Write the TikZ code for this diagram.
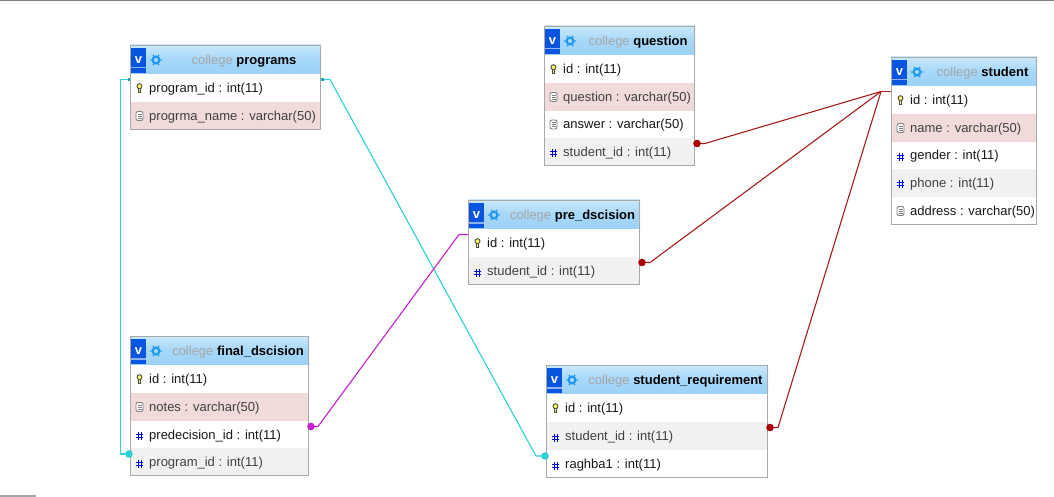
\documentclass[tikz,border=0pt]{standalone}
\usepackage{fontspec}
\setmainfont{Liberation Sans}
\usetikzlibrary{calc}
\definecolor{hdtop}{HTML}{C9E8FB}
\definecolor{hdbot}{HTML}{9BD2F7}
\definecolor{rowpink}{HTML}{F0DADA}
\definecolor{rowgray}{HTML}{F1F1F1}
\definecolor{tblborder}{HTML}{A9A9A9}
\definecolor{cyanlink}{HTML}{2CD0D5}
\definecolor{maglink}{HTML}{C81FD0}
\definecolor{redlink}{HTML}{A81C1C}
\definecolor{reddot}{HTML}{A80000}
\definecolor{vblue}{HTML}{0A55E0}
\definecolor{gearblue}{HTML}{1E9BEF}
\tikzset{
  x=1pt,y=-1pt,
  hdbox/.style={anchor=north west,inner sep=0,outer sep=0,rectangle,top color=hdtop,bottom color=hdbot,middle color=hdbot!75!hdtop},
  rowbox/.style={anchor=north west,inner sep=0,outer sep=0,rectangle},
  frame/.style={anchor=north west,inner sep=0,outer sep=0,rectangle,draw=tblborder,line width=1pt},
  fieldtxt/.style={anchor=base west,inner sep=0,font=\fontsize{13}{15}\selectfont},
  titletxt/.style={anchor=base,inner sep=0,font=\fontsize{13}{15}\selectfont},
  vtxt/.style={anchor=center,inner sep=0,text=white,font=\fontsize{13}{15}\selectfont\bfseries},
  link/.style={line width=1.1pt,line join=round},
}
% name x0 y0 x1 y1 title
\newcommand{\tblhead}[6]{%
  \node[hdbox,minimum width=#4-#2,minimum height=#5-#3] (#1) at (#2,#3) {};
  \fill[vblue] (#2+1,#3+3) rectangle (#2+16,#3+28);
  \fill[white!55!vblue] (#2+1,#3+22) rectangle (#2+16,#3+23.5);
  \node[vtxt] (#1v) at (#2+8.5,#3+15.5) {v};
  \draw[gearblue,line width=2.2pt] (#2+26,#3+15) circle (3.4);
  \foreach \a in {0,60,...,300}{\fill[gearblue] ($(#2+26,#3+15)+(\a:5.2)$) circle (.9);}
  \node[titletxt] (#1t) at ({(#2+35+#4)/2+1},#3+19.5) {\textcolor[HTML]{A6A6A6}{college} \textcolor{black}{\bfseries #6}};
}
% name x0 y0 x1 y1 fill icon text textcolor
\newcommand{\tblrow}[9]{%
  \node[rowbox,fill=#6,minimum width=#4-#2,minimum height=#5-#3] (#1) at (#2,#3) {};
  \csname icon#7\endcsname{#2+9.5}{(#3+#5)/2}
  \node[fieldtxt,text=#9] (#1t) at (#2+19,{(#3+#5)/2+4.5}) {#8};
}
\newcommand{\iconkey}[2]{%
  \draw[black!70,fill=yellow!65!white,line width=.9pt] ({#1},{#2-1.8}) circle (2.5);
  \draw[black!70,fill=yellow!65!white,line width=.9pt] ({#1-1.3},{#2+.5}) rectangle ({#1+1.3},{#2+4});
}
\newcommand{\icontxt}[2]{%
  \draw[black!50,fill=white,line width=.9pt,rounded corners=2pt] ({#1-3.5},{#2-4.5}) rectangle ({#1+3.5},{#2+4.5});
  \draw[black!50,line width=.8pt] ({#1-2},{#2-2}) -- ({#1+2},{#2-2}) ({#1-2},{#2}) -- ({#1+2},{#2}) ({#1-2},{#2+2}) -- ({#1+2},{#2+2});
}
\newcommand{\iconnum}[2]{%
  \draw[blue!95!black,line width=1pt] ({#1-1.5},{#2-2.5}) -- ({#1-1.5},{#2+5.5}) ({#1+1.5},{#2-2.5}) -- ({#1+1.5},{#2+5.5}) ({#1-3.5},{#2}) -- ({#1+3.5},{#2}) ({#1-3.5},{#2+3}) -- ({#1+3.5},{#2+3});
}
\newcommand{\tblframe}[5]{%
  \node[frame,minimum width=#4-#2-1,minimum height=#5-#3-1] (#1) at (#2+.5,#3+.5) {};
}
\begin{document}
\begin{tikzpicture}
\useasboundingbox (0,0) rectangle (1054,497);
\fill[white] (0,0) rectangle (1054,497);
\fill[black!50] (0,0) rectangle (1054,1);
\fill[black!35] (0,495) rectangle (36,496.5);

% programs
\tblhead{prgH}{130}{45}{321}{74}{programs}
\tblrow{prgA}{130}{74}{321}{102}{white}{key}{program\_id : int(11)}{black!90}
\tblrow{prgB}{130}{102}{321}{130}{rowpink}{txt}{progrma\_name : varchar(50)}{black!75}
\tblframe{prgF}{130}{45}{321}{130}

% final_dscision
\tblhead{finH}{130}{336}{309}{365}{final\_dscision}
\tblrow{finA}{130}{365}{309}{393}{white}{key}{id : int(11)}{black!90}
\tblrow{finB}{130}{393}{309}{421}{rowpink}{txt}{notes : varchar(50)}{black!75}
\tblrow{finC}{130}{421}{309}{448}{white}{num}{predecision\_id : int(11)}{black!90}
\tblrow{finD}{130}{448}{309}{476}{rowgray}{num}{program\_id : int(11)}{black!75}
\tblframe{finF}{130}{336}{309}{476}

% question
\tblhead{queH}{544}{26}{695}{55}{question}
\tblrow{queA}{544}{55}{695}{83}{white}{key}{id : int(11)}{black!90}
\tblrow{queB}{544}{83}{695}{111}{rowpink}{txt}{question : varchar(50)}{black!75}
\tblrow{queC}{544}{111}{695}{138}{white}{txt}{answer : varchar(50)}{black!90}
\tblrow{queD}{544}{138}{695}{166}{rowgray}{num}{student\_id : int(11)}{black!75}
\tblframe{queF}{544}{26}{695}{166}

% pre_dscision
\tblhead{preH}{468}{200}{640}{229}{pre\_dscision}
\tblrow{preA}{468}{229}{640}{257}{white}{key}{id : int(11)}{black!90}
\tblrow{preB}{468}{257}{640}{285}{rowgray}{num}{student\_id : int(11)}{black!75}
\tblframe{preF}{468}{200}{640}{285}

% student_requirement
\tblhead{reqH}{546}{365}{768}{394}{student\_requirement}
\tblrow{reqA}{546}{394}{768}{422}{white}{key}{id : int(11)}{black!90}
\tblrow{reqB}{546}{422}{768}{450}{rowgray}{num}{student\_id : int(11)}{black!75}
\tblrow{reqC}{546}{450}{768}{478}{white}{num}{raghba1 : int(11)}{black!90}
\tblframe{reqF}{546}{365}{768}{478}

% student
\tblhead{stuH}{891}{57}{1037}{86}{student}
\tblrow{stuA}{891}{86}{1037}{114}{white}{key}{id : int(11)}{black!90}
\tblrow{stuB}{891}{114}{1037}{142}{rowpink}{txt}{name : varchar(50)}{black!75}
\tblrow{stuC}{891}{142}{1037}{169}{white}{num}{gender : int(11)}{black!90}
\tblrow{stuD}{891}{169}{1037}{197}{rowgray}{num}{phone : int(11)}{black!75}
\tblrow{stuE}{891}{197}{1037}{225}{white}{txt}{address : varchar(50)}{black!90}
\tblframe{stuF}{891}{57}{1037}{225}

% anchor points of the links: 8.5px above the centre of the row
\coordinate (a1) at ($(prgA.west)+(0,-8.5)$);
\coordinate (a2) at ($(prgA.east)+(0,-8.5)$);
\coordinate (b1) at ($(finD.west)+(0,-8)$);
\coordinate (b2) at ($(finC.east)+(0,-8)$);
\coordinate (c1) at ($(reqC.west)+(0,-8)$);
\coordinate (c2) at ($(reqB.east)+(0,-8.5)$);
\coordinate (d1) at ($(preA.west)+(0,-8.5)$);
\coordinate (d2) at ($(preB.east)+(0,-8.5)$);
\coordinate (e1) at ($(queD.east)+(0,-8.5)$);
\coordinate (f1) at ($(stuA.west)+(0,-8.5)$);

% cyan links
\draw[link,cyanlink] (a1) -- ++(-9.5,0) |- (b1);
\fill[cyanlink] ($(b1)+(-1,0)$) circle (3.8);
\draw[link,cyanlink] (a2) -- ++(9,0) -- ($(c1)+(-10,0)$) -- (c1);
\fill[cyanlink] ($(c1)+(-1,0)$) circle (3.8);
\fill[cyanlink!80!black] ($(a2)+(0,-1.5)$) rectangle ($(a2)+(3,1.5)$);
\fill[cyanlink!80!black] ($(a1)+(-2,-1.5)$) rectangle ($(a1)+(0,1.5)$);

% magenta link
\draw[link,maglink] (b2) -- ++(9,0) -- ($(d1)+(-9,0)$) -- (d1);
\fill[maglink] ($(b2)+(2,0)$) circle (3.8);

% red links
\draw[link,redlink] (e1) -- ++(10,0) -- ($(f1)+(-10,0)$);
\draw[link,redlink] (d2) -- ++(10,0) -- ($(f1)+(-10,0)$);
\draw[link,redlink] (c2) -- ++(10,0) -- ($(f1)+(-10,0)$);
\draw[line width=1.8pt,redlink] ($(f1)+(-10,0)$) -- (f1);
\fill[reddot] ($(e1)+(2,0)$) circle (3.8);
\fill[reddot] ($(d2)+(2,0)$) circle (3.8);
\fill[reddot] ($(c2)+(2,0)$) circle (3.8);
\end{tikzpicture}
\end{document}
